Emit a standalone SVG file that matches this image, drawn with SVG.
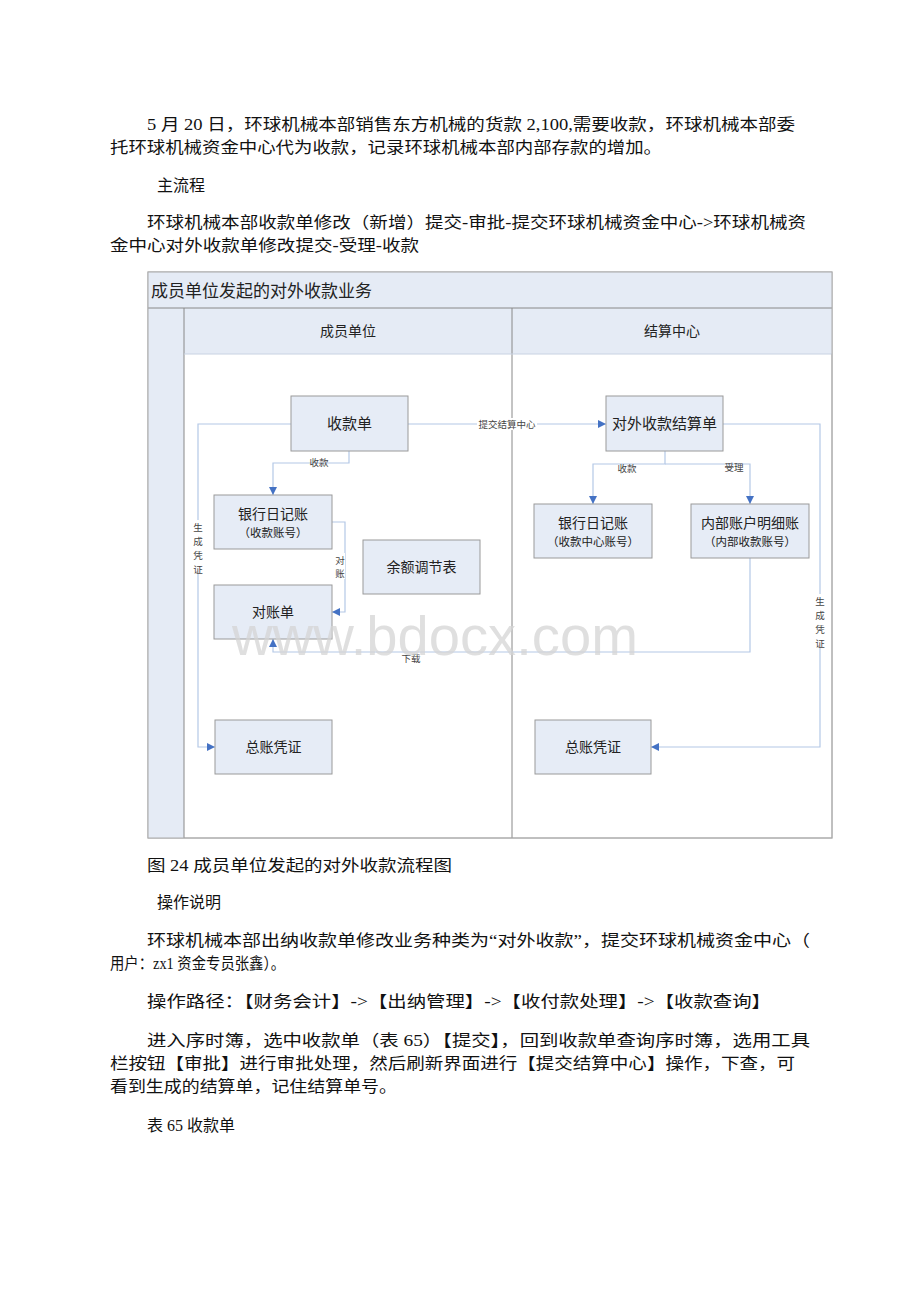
<svg xmlns="http://www.w3.org/2000/svg" width="920" height="1302" viewBox="0 0 920 1302">
<defs>
<style>
.body{font-family:"Liberation Serif","Noto Sans CJK SC",serif;font-size:16px;fill:#111}
.d{font-family:"Noto Sans CJK SC","Liberation Sans",sans-serif;fill:#222}
.node{fill:#e6ecf6;stroke:#9a9a9a;stroke-width:1}
.hdr{fill:#e5ebf5}
.lane{fill:none;stroke:#888;stroke-width:1}
.c{fill:none;stroke:#b4c8e6;stroke-width:1.2}
.lbl{font-family:"Noto Sans CJK SC","Liberation Sans",sans-serif;font-size:9.5px;fill:#444}
.lblbg{fill:#fff}
</style>
<marker id="ar" viewBox="0 0 10 10" refX="10" refY="5" markerWidth="8" markerHeight="8" markerUnits="userSpaceOnUse" orient="auto">
<path d="M0,0 L10,5 L0,10 z" fill="#4472c4"/>
</marker>
</defs>
<rect width="920" height="1302" fill="#fff"/>

<g id="text-top">
<text class="body" x="147" y="130" textLength="648" lengthAdjust="spacingAndGlyphs">5 月 20 日，环球机械本部销售东方机械的货款 2,100,需要收款，环球机械本部委</text>
<text class="body" x="110" y="153" textLength="552" lengthAdjust="spacingAndGlyphs">托环球机械资金中心代为收款，记录环球机械本部内部存款的增加。</text>
<text class="body" x="157" y="191">主流程</text>
<text class="body" x="147" y="228" textLength="659" lengthAdjust="spacingAndGlyphs">环球机械本部收款单修改（新增）提交-审批-提交环球机械资金中心-&gt;环球机械资</text>
<text class="body" x="110" y="251" textLength="309" lengthAdjust="spacingAndGlyphs">金中心对外收款单修改提交-受理-收款</text>
</g>

<g id="pool">
<rect x="148" y="272" width="684" height="566" fill="#fff" stroke="#aaa" stroke-width="1"/>
<rect class="hdr" x="148" y="272" width="684" height="36"/>
<rect class="hdr" x="148" y="308" width="36" height="530"/>
<rect class="hdr" x="184" y="308" width="648" height="46"/>
<line class="lane" x1="148" y1="308" x2="832" y2="308"/>
<line class="lane" x1="184" y1="308" x2="184" y2="838"/>
<line class="lane" x1="512" y1="308" x2="512" y2="838"/>
<line x1="184" y1="354" x2="832" y2="354" stroke="#c8d2e2" stroke-width="1"/>
<rect x="148" y="272" width="684" height="566" fill="none" stroke="#aaa" stroke-width="1"/>
<text class="d" x="151" y="297" font-size="17">成员单位发起的对外收款业务</text>
<text class="d" x="348" y="336" font-size="14" text-anchor="middle">成员单位</text>
<text class="d" x="672" y="336" font-size="14" text-anchor="middle">结算中心</text>
</g>

<g id="connectors">
<path class="c" d="M408,424 H606" marker-end="url(#ar)"/>
<path class="c" d="M349,451 V463 H273 V495" marker-end="url(#ar)"/>
<path class="c" d="M332,522 H345 V612 H332" marker-end="url(#ar)"/>
<path class="c" d="M750,558 V652 H273 V639" marker-end="url(#ar)"/>
<path class="c" d="M291,424 H198 V747 H215" marker-end="url(#ar)"/>
<path class="c" d="M723,424 H820 V747 H651" marker-end="url(#ar)"/>
<path class="c" d="M665,451 V464 H593 V504" marker-end="url(#ar)"/>
<path class="c" d="M665,464 H750 V504" marker-end="url(#ar)"/>
<rect class="lblbg" x="477" y="418" width="60" height="12"/>
<text class="lbl" x="507" y="427.5" text-anchor="middle">提交结算中心</text>
<text class="lbl" x="319" y="466" text-anchor="middle">收款</text>
<rect class="lblbg" x="335" y="553" width="10" height="26"/>
<text class="lbl" x="340" y="564" text-anchor="middle">对</text>
<text class="lbl" x="340" y="577" text-anchor="middle">账</text>
<text class="lbl" x="411" y="662" text-anchor="middle">下载</text>
<text class="lbl" x="627" y="472" text-anchor="middle">收款</text>
<text class="lbl" x="734" y="471" text-anchor="middle">受理</text>
<rect class="lblbg" x="192" y="520" width="12" height="54"/>
<text class="lbl" x="198" y="531" text-anchor="middle">生</text>
<text class="lbl" x="198" y="545" text-anchor="middle">成</text>
<text class="lbl" x="198" y="559" text-anchor="middle">凭</text>
<text class="lbl" x="198" y="573" text-anchor="middle">证</text>
<rect class="lblbg" x="814" y="594" width="12" height="54"/>
<text class="lbl" x="820" y="605" text-anchor="middle">生</text>
<text class="lbl" x="820" y="619" text-anchor="middle">成</text>
<text class="lbl" x="820" y="633" text-anchor="middle">凭</text>
<text class="lbl" x="820" y="647" text-anchor="middle">证</text>
</g>

<g id="n-shoukuandan">
<rect class="node" x="291" y="396" width="117" height="55"/>
<text class="d" x="349.5" y="429" font-size="15" text-anchor="middle">收款单</text>
</g>
<g id="n-duiwai">
<rect class="node" x="606" y="396" width="117" height="55"/>
<text class="d" x="664.5" y="429" font-size="15" text-anchor="middle">对外收款结算单</text>
</g>
<g id="n-bank1">
<rect class="node" x="214" y="495" width="118" height="54"/>
<text class="d" x="273" y="519" font-size="14" text-anchor="middle">银行日记账</text>
<text class="d" x="273" y="537" font-size="11.5" text-anchor="middle">（收款账号）</text>
</g>
<g id="n-yue">
<rect class="node" x="363" y="540" width="117" height="54"/>
<text class="d" x="421.5" y="572" font-size="14" text-anchor="middle">余额调节表</text>
</g>
<g id="n-duizhang">
<rect class="node" x="214" y="585" width="118" height="54"/>
<text class="d" x="273" y="617" font-size="14" text-anchor="middle">对账单</text>
</g>
<g id="n-bank2">
<rect class="node" x="534" y="504" width="118" height="54"/>
<text class="d" x="593" y="528" font-size="14" text-anchor="middle">银行日记账</text>
<text class="d" x="593" y="546" font-size="11.5" text-anchor="middle">（收款中心账号）</text>
</g>
<g id="n-neibu">
<rect class="node" x="691" y="504" width="118" height="54"/>
<text class="d" x="750" y="528" font-size="14" text-anchor="middle">内部账户明细账</text>
<text class="d" x="750" y="546" font-size="11.5" text-anchor="middle">（内部收款账号）</text>
</g>
<g id="n-zongzhang1">
<rect class="node" x="215" y="720" width="117" height="54"/>
<text class="d" x="273.5" y="752" font-size="14" text-anchor="middle">总账凭证</text>
</g>
<g id="n-zongzhang2">
<rect class="node" x="535" y="720" width="116" height="54"/>
<text class="d" x="593" y="752" font-size="14" text-anchor="middle">总账凭证</text>
</g>

<text x="232" y="655" font-family="Liberation Sans, sans-serif" font-size="55" fill="#d4d4d4" fill-opacity="0.75" textLength="406" lengthAdjust="spacingAndGlyphs">www.bdocx.com</text>

<g id="text-bottom">
<text class="body" x="147" y="871" textLength="305" lengthAdjust="spacingAndGlyphs">图 24 成员单位发起的对外收款流程图</text>
<text class="body" x="157" y="908">操作说明</text>
<text class="body" x="147" y="946" textLength="663" lengthAdjust="spacingAndGlyphs">环球机械本部出纳收款单修改业务种类为“对外收款”，提交环球机械资金中心（</text>
<text class="body" x="110" y="969" textLength="175" lengthAdjust="spacingAndGlyphs">用户：zx1 资金专员张鑫）。</text>
<text class="body" x="147" y="1007" textLength="624" lengthAdjust="spacingAndGlyphs">操作路径：【财务会计】-&gt;【出纳管理】-&gt;【收付款处理】-&gt;【收款查询】</text>
<text class="body" x="147" y="1046" textLength="663" lengthAdjust="spacingAndGlyphs">进入序时簿，选中收款单（表 65）【提交】，回到收款单查询序时簿，选用工具</text>
<text class="body" x="110" y="1069" textLength="685" lengthAdjust="spacingAndGlyphs">栏按钮【审批】进行审批处理，然后刷新界面进行【提交结算中心】操作，下查，可</text>
<text class="body" x="110" y="1092" textLength="287" lengthAdjust="spacingAndGlyphs">看到生成的结算单，记住结算单号。</text>
<text class="body" x="147" y="1131">表 65 收款单</text>
</g>
</svg>
